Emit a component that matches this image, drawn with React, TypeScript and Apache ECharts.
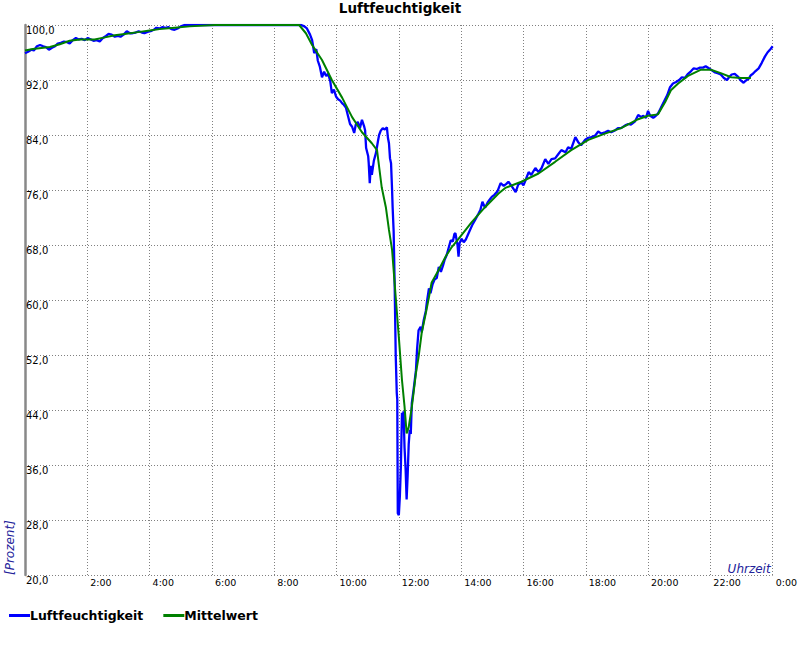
import React, { useEffect, useRef } from "react";
import * as echarts from "echarts";

// Time in minutes since 0:00, relative humidity in percent
const humidity: [number, number][] = [
  [0, 95.9], [6, 96.1], [12, 96.4], [17, 96.3], [23, 96.9], [29, 97.1], [35, 96.9], [40, 96.8], [46, 96.4], [52, 96.7],
  [58, 96.9], [63, 97.3], [69, 97.4], [75, 97.6], [81, 97.5], [86, 97.3], [92, 97.8], [98, 98.1], [104, 97.9], [109, 98.0],
  [115, 97.8], [121, 98.1], [127, 97.9], [132, 97.7], [138, 97.8], [144, 97.6], [150, 98.1], [156, 98.4], [161, 98.7], [167, 98.6],
  [173, 98.3], [179, 98.4], [184, 98.3], [190, 98.6], [196, 99.1], [202, 98.8], [207, 98.8], [213, 98.9], [219, 99.1], [225, 98.9],
  [230, 98.8], [236, 99.0], [242, 99.1], [248, 99.3], [253, 99.6], [259, 99.5], [265, 99.7], [271, 99.6], [276, 99.7], [282, 99.4],
  [288, 99.3], [294, 99.5], [300, 99.8], [307, 100], [420, 100], [532, 100],
  [538, 99.8], [543, 99.5], [549, 98.6], [553, 97.8], [557, 95.9], [561, 96.5], [564, 94.8], [568, 93.9], [572, 92.4], [576, 93.2],
  [580, 92.6], [584, 92.9], [588, 91.8], [591, 90.1], [595, 90.6], [599, 89.6], [603, 89.2], [607, 89.0], [611, 88.6], [614, 88.4],
  [618, 88.0], [622, 86.8], [626, 85.6], [630, 85.2], [634, 84.3], [637, 85.5], [641, 85.9], [645, 85.0], [649, 86.2], [653, 85.3],
  [655, 84.7], [657, 82.1], [661, 80.9], [662, 79.9], [664, 77.0], [666, 79.5], [668, 78.2], [672, 80.3], [676, 81.4], [680, 83.2],
  [682, 84.0], [685, 84.6], [689, 85.0], [693, 84.8], [697, 85.1], [699, 83.6], [701, 82.8], [703, 80.6], [705, 79.9], [707, 76.0],
  [708, 73.6], [710, 70.0], [712, 62.0], [714, 52.0], [716, 46.5], [717, 45.5], [718, 29.0], [720, 28.7], [722, 31.5], [724, 36.0],
  [726, 43.6], [727, 42.1], [729, 43.8], [731, 38.5], [733, 35.5], [735, 31.0], [737, 34.5], [739, 39.0], [741, 41.1], [743, 40.5],
  [745, 45.0], [749, 47.3], [753, 49.8], [755, 52.7], [758, 55.6], [762, 56.1], [764, 55.3], [768, 57.1], [772, 58.4], [774, 59.7],
  [778, 61.7], [781, 61.0], [785, 62.3], [789, 63.0], [793, 63.2], [797, 64.8], [801, 64.1], [805, 65.0], [808, 65.8], [812, 66.5],
  [816, 67.6], [820, 68.7], [824, 68.5], [827, 69.6], [829, 69.7], [833, 68.0], [835, 66.3], [837, 68.3], [841, 68.9], [845, 68.4],
  [849, 68.8], [856, 70.0], [862, 71.0], [868, 71.8], [873, 72.5], [877, 73.1], [881, 74.3], [886, 73.4], [891, 74.2], [897, 74.8],
  [899, 75.0], [904, 75.3], [910, 75.8], [916, 77.0], [922, 76.6], [927, 76.9], [931, 77.2], [937, 76.6], [945, 75.7], [950, 76.8],
  [956, 77.1], [960, 76.7], [965, 77.6], [970, 78.6], [975, 78.2], [983, 79.2], [989, 78.6], [995, 79.2], [1002, 80.5], [1008, 79.8],
  [1014, 80.5], [1021, 80.6], [1027, 81.2], [1033, 81.8], [1041, 81.5], [1046, 82.2], [1052, 82.0], [1060, 83.7], [1066, 82.9], [1071, 82.5],
  [1079, 83.3], [1085, 83.6], [1091, 83.7], [1098, 83.9], [1104, 84.5], [1110, 84.2], [1117, 84.4], [1123, 84.6], [1129, 84.4], [1137, 84.7],
  [1142, 85.0], [1148, 85.0], [1156, 85.4], [1162, 85.6], [1167, 85.5], [1175, 86.0], [1181, 86.9], [1187, 86.6], [1190, 86.8], [1196, 86.5],
  [1200, 87.5], [1204, 86.8], [1210, 86.5], [1215, 86.8], [1219, 87.1], [1225, 88.0], [1231, 88.9], [1237, 89.8], [1242, 90.9], [1248, 91.5],
  [1254, 91.7], [1260, 92.0], [1265, 92.4], [1271, 92.3], [1277, 92.9], [1283, 93.3], [1288, 93.7], [1294, 93.6], [1300, 93.8], [1306, 93.8],
  [1311, 94.0], [1317, 93.7], [1323, 93.4], [1329, 93.1], [1334, 93.0], [1340, 92.8], [1346, 92.3], [1352, 92.0], [1356, 92.4], [1361, 92.8],
  [1367, 92.9], [1373, 92.5], [1379, 91.9], [1384, 91.6], [1388, 91.9], [1394, 92.2], [1398, 92.7], [1402, 92.9], [1407, 93.3], [1413, 93.7],
  [1419, 94.5], [1425, 95.4], [1430, 96.0], [1436, 96.5], [1440, 96.9],
];

const mean: [number, number][] = [
  [0, 96.3], [15, 96.5], [48, 96.8], [67, 97.2], [86, 97.7], [106, 97.9], [134, 97.9], [154, 98.2], [173, 98.5], [192, 98.7],
  [221, 99.0], [240, 99.2], [259, 99.4], [288, 99.6], [317, 99.8], [365, 100], [528, 100], [541, 98.8], [553, 97.1], [572, 94.9],
  [591, 92.0], [611, 89.4], [630, 86.6], [649, 84.4], [668, 82.8], [678, 81.8], [687, 76.4], [695, 73.5], [701, 70.2], [707, 67.3],
  [714, 60.4], [720, 54.6], [726, 48.4], [731, 44.5], [735, 40.6], [739, 41.5], [745, 44.4], [753, 49.4], [758, 51.7], [764, 55.2],
  [772, 58.1], [778, 60.4], [783, 62.5], [797, 64.4], [810, 66.3], [822, 67.7], [835, 68.9], [860, 71.3], [886, 73.5], [912, 75.5],
  [925, 76.3], [956, 77.2], [989, 78.4], [1021, 80.1], [1052, 81.8], [1085, 83.3], [1117, 84.2], [1148, 85.0], [1181, 86.3], [1200, 86.8],
  [1219, 87.0], [1233, 88.8], [1244, 90.5], [1258, 91.5], [1277, 92.6], [1302, 93.5], [1321, 93.5], [1340, 93.0], [1360, 92.4], [1379, 92.3],
  [1398, 92.3],
];

const seriesNames = ["Luftfeuchtigkeit", "Mittelwert"];
const titleText = "Luftfeuchtigkeit";
const yAxisName = "[Prozent]";
const xAxisName = "Uhrzeit";

const FONT = "DejaVu Sans";

export default function App() {
  const ref = useRef<HTMLDivElement>(null);
  useEffect(() => {
    if (!ref.current) return;
    const chart = echarts.init(ref.current, null, { renderer: "svg" });
    const grid = { left: 25, top: 25, width: 750, height: 550 };
    chart.setOption({
      animation: false,
      backgroundColor: "#ffffff",
      title: {
        text: titleText,
        left: "center",
        top: 1,
        padding: 0,
        textStyle: { fontFamily: FONT, fontSize: 13.5, fontWeight: "bold", color: "#000" },
      },
      legend: {
        left: 9,
        top: 609,
        padding: 0,
        itemGap: 20,
        itemWidth: 21,
        itemHeight: 3,
        icon: "rect",
        data: seriesNames,
        textStyle: {
          fontFamily: FONT,
          fontSize: 12.5,
          fontWeight: "bold",
          color: "#000",
          padding: [0, 0, 8, -5],
        },
      },
      grid,
      xAxis: {
        type: "value",
        min: 0,
        max: 1440,
        interval: 120,
        name: xAxisName,
        nameLocation: "end",
        nameGap: -2,
        nameTextStyle: {
          fontFamily: FONT,
          fontSize: 12,
          fontStyle: "italic",
          color: "#22229a",
          align: "right",
          verticalAlign: "bottom",
        },
        axisLine: { show: false },
        axisTick: { show: false },
        axisLabel: {
          margin: 2,
          align: "left",
          padding: [0, 0, 0, 3],
          fontFamily: FONT,
          fontSize: 9.5,
          color: "#000",
          formatter: (v: number) => (v === 0 ? "" : `${(v / 60) % 24}:00`),
        },
        splitLine: { show: true, lineStyle: { color: "#808080", type: [1, 2], width: 1 } },
      },
      yAxis: {
        type: "value",
        min: 20,
        max: 100,
        interval: 8,
        axisLine: { show: true, lineStyle: { color: "#888888", width: 2.5 } },
        axisTick: { show: false },
        axisLabel: {
          inside: true,
          margin: 1,
          verticalAlign: "top",
          fontFamily: FONT,
          fontSize: 10,
          color: "#000",
          formatter: (v: number) => v.toFixed(1).replace(".", ","),
        },
        splitLine: { show: true, lineStyle: { color: "#808080", type: [1, 2], width: 1 } },
      },
      graphic: [
        {
          type: "text",
          x: 10,
          y: 575,
          rotation: Math.PI / 2,
          style: {
            text: yAxisName,
            fontFamily: FONT,
            fontSize: 12,
            fontStyle: "italic",
            fill: "#22229a",
            align: "left",
            verticalAlign: "middle",
          },
        },
      ],
      series: [
        {
          name: seriesNames[0],
          type: "line",
          data: humidity,
          symbol: "none",
          color: "#0000ff",
          lineStyle: { color: "#0000ff", width: 2.3 },
          z: 2,
        },
        {
          name: seriesNames[1],
          type: "line",
          data: mean,
          symbol: "none",
          color: "#008000",
          lineStyle: { color: "#008000", width: 2 },
          z: 3,
        },
      ],
    });
    return () => chart.dispose();
  }, []);
  return (
    <div
      ref={ref}
      style={{ position: "fixed", left: 0, top: 0, width: 800, height: 650, background: "#fff" }}
    />
  );
}
